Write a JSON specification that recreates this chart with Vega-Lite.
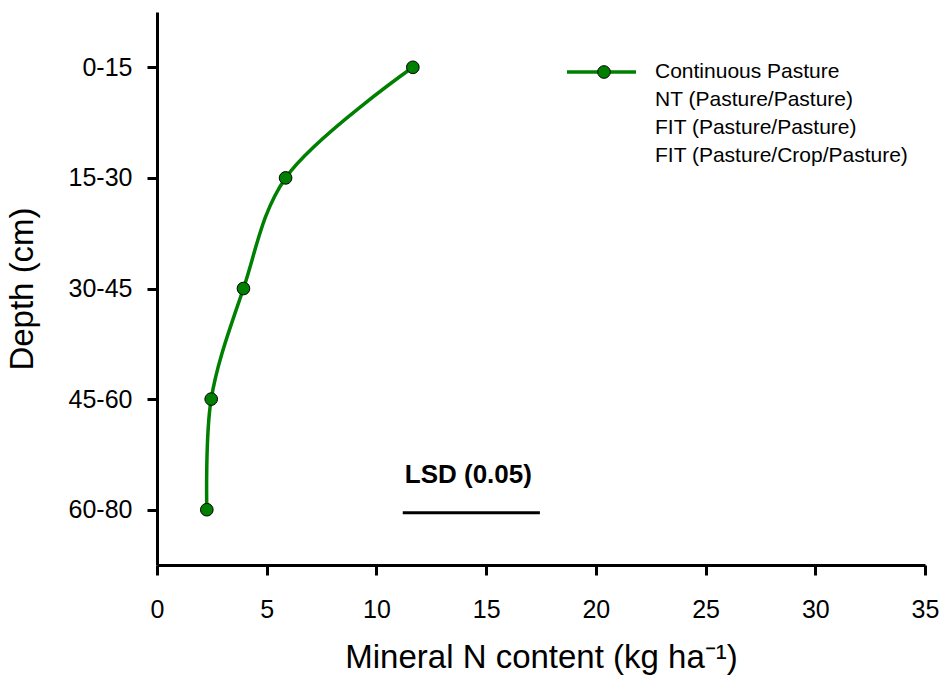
{
  "$schema": "https://vega.github.io/schema/vega-lite/v6.json",
  "width": 768,
  "height": 553,
  "autosize": {"type": "none"},
  "padding": {"left": 157, "top": 12, "right": 18, "bottom": 117},
  "background": "white",
  "config": {
    "font": "Liberation Sans",
    "view": {"stroke": null},
    "axis": {
      "grid": false,
      "domainColor": "black",
      "domainWidth": 3,
      "tickColor": "black",
      "tickWidth": 3,
      "tickSize": 10,
      "labelColor": "black",
      "titleColor": "black",
      "labelFont": "Liberation Sans",
      "titleFont": "Liberation Sans",
      "titleFontWeight": "normal",
      "labelFontSize": 25,
      "labelFlush": false,
      "labelOverlap": false
    },
    "legend": {"labelFont": "Liberation Sans", "labelColor": "black", "labelLimit": 0}
  },
  "datasets": {
    "profile": [
      {"depth": "0-15", "mineral_n": 11.66, "series": "Continuous Pasture"},
      {"depth": "15-30", "mineral_n": 5.86, "series": "Continuous Pasture"},
      {"depth": "30-45", "mineral_n": 3.94, "series": "Continuous Pasture"},
      {"depth": "45-60", "mineral_n": 2.47, "series": "Continuous Pasture"},
      {"depth": "60-80", "mineral_n": 2.27, "series": "Continuous Pasture"}
    ],
    "lsd": [
      {"depth": "60-80", "from": 11.2, "to": 17.45, "label": "LSD (0.05)"}
    ]
  },
  "layer": [
    {
      "data": {"name": "lsd"},
      "mark": {"type": "rule", "color": "black", "strokeWidth": 3, "yOffset": 3},
      "encoding": {
        "x": {"field": "from", "type": "quantitative"},
        "x2": {"field": "to"},
        "y": {"field": "depth", "type": "ordinal"}
      }
    },
    {
      "data": {"name": "lsd"},
      "mark": {"type": "text", "align": "left", "baseline": "alphabetic", "dy": -27, "dx": 2, "fontSize": 26, "fontWeight": "bold", "color": "black"},
      "encoding": {
        "x": {"field": "from", "type": "quantitative"},
        "y": {"field": "depth", "type": "ordinal"},
        "text": {"field": "label"}
      }
    },
    {
      "data": {"name": "profile"},
      "mark": {"type": "line", "interpolate": "catmull-rom", "strokeWidth": 3.5},
      "encoding": {
        "x": {"field": "mineral_n", "type": "quantitative"},
        "y": {"field": "depth", "type": "ordinal"},
        "order": {"field": "depth"},
        "stroke": {
          "field": "series",
          "type": "nominal",
          "scale": {
            "domain": ["Continuous Pasture", "NT (Pasture/Pasture)", "FIT (Pasture/Pasture)", "FIT (Pasture/Crop/Pasture)"],
            "range": ["#008000", "transparent", "transparent", "transparent"]
          },
          "legend": {
            "title": null,
            "orient": "none",
            "legendX": 408,
            "legendY": 49,
            "padding": 0,
            "symbolType": "stroke",
            "symbolSize": 4761,
            "symbolStrokeWidth": 3.5,
            "clipHeight": 22,
            "rowPadding": 6,
            "labelOffset": 17,
            "labelFontSize": 21,
            "labelLimit": 0
          }
        }
      }
    },
    {
      "data": {"name": "profile"},
      "mark": {"type": "point", "filled": true, "size": 160, "stroke": "black", "strokeWidth": 1, "opacity": 1},
      "encoding": {
        "x": {
          "field": "mineral_n",
          "type": "quantitative",
          "scale": {"domain": [0, 35], "nice": false},
          "axis": {
            "values": [0, 5, 10, 15, 20, 25, 30, 35],
            "labelPadding": 22,
            "title": "Mineral N content (kg ha⁻¹)",
            "titleFontSize": 33,
            "titleBaseline": "alphabetic",
            "titleY": 102
          }
        },
        "y": {
          "field": "depth",
          "type": "ordinal",
          "sort": ["0-15", "15-30", "30-45", "45-60", "60-80"],
          "scale": {"type": "point", "padding": 0.5},
          "axis": {
            "labelPadding": 15,
            "title": "Depth (cm)",
            "titleFontSize": 33,
            "titleBaseline": "alphabetic",
            "titleX": -125
          }
        },
        "fill": {
          "field": "series",
          "type": "nominal",
          "scale": {"range": ["#008000"]},
          "legend": {
            "title": null,
            "orient": "none",
            "legendX": 436.5,
            "legendY": 49,
            "padding": 0,
            "symbolType": "circle",
            "symbolSize": 160,
            "symbolStrokeColor": "black",
            "symbolStrokeWidth": 1,
            "clipHeight": 22,
            "labelExpr": "''",
            "labelFontSize": 21
          }
        }
      }
    }
  ]
}
